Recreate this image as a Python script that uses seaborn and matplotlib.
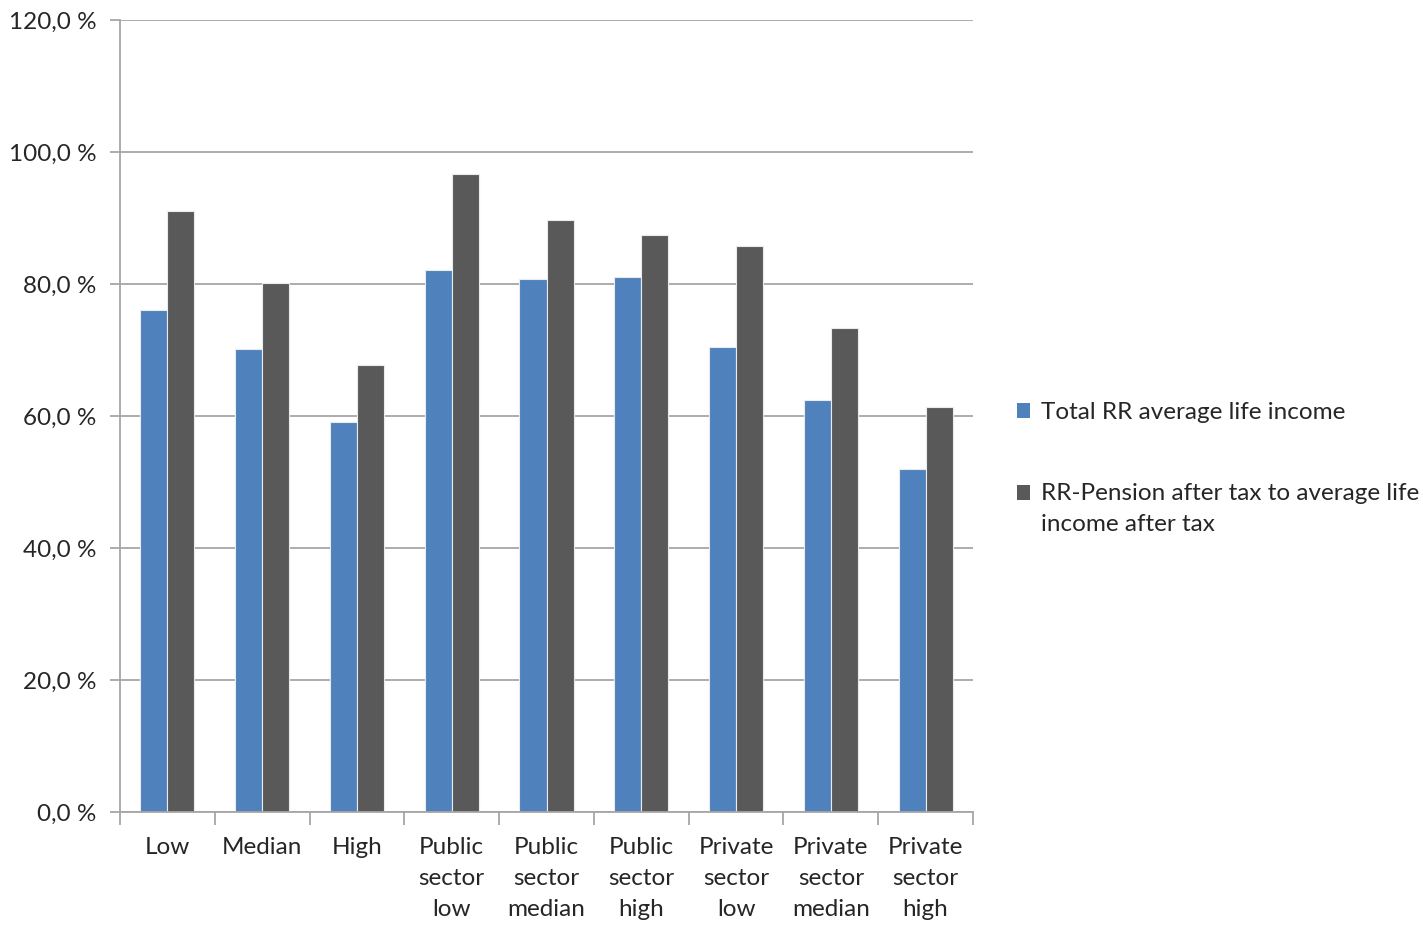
import numpy as np
import pandas as pd
import seaborn as sns
import matplotlib
matplotlib.use("Agg")
import matplotlib.pyplot as plt
from matplotlib.ticker import FuncFormatter, FixedLocator
from matplotlib.patches import Patch, Rectangle
from matplotlib.legend_handler import HandlerPatch

categories = ["Low", "Median", "High",
              "Public\nsector\nlow", "Public\nsector\nmedian", "Public\nsector\nhigh",
              "Private\nsector\nlow", "Private\nsector\nmedian", "Private\nsector\nhigh"]
series_names = ["Total RR average life income",
                "RR-Pension after tax to average life\nincome after tax"]
total_rr = [76.1, 70.1, 59.1, 82.1, 80.8, 81.1, 70.5, 62.5, 52.0]
rr_after_tax = [91.0, 80.1, 67.7, 96.6, 89.7, 87.4, 85.8, 73.4, 61.3]
colors = ["#4F81BD", "#595959"]

df = pd.DataFrame({
    "category": categories * 2,
    "series": [series_names[0]] * len(categories) + [series_names[1]] * len(categories),
    "value": total_rr + rr_after_tax,
})

sns.set_theme(style="white")
plt.rcParams["font.family"] = ["Lato", "DejaVu Sans"]
FS = 17.5
LINE_SPACING = 1.6

fig = plt.figure(figsize=(14.23, 9.25), dpi=100)
ax = fig.add_axes([120 / 1423, 113 / 925, 853 / 1423, 792 / 925])

sns.barplot(data=df, x="category", y="value", hue="series", order=categories,
            hue_order=series_names, palette=colors, width=0.57, gap=0,
            edgecolor="#E8ECF2", linewidth=0.8, saturation=1, legend=False, ax=ax)

ax.set_ylim(0, 120)
ax.set_xlim(-0.5, len(categories) - 0.5)
ax.set_yticks(np.arange(0, 121, 20))
ax.yaxis.set_major_formatter(FuncFormatter(lambda v, p: f"{v:.1f} %".replace(".", ",")))
ax.yaxis.grid(True, color="#A6A6A6", linewidth=1.3)
ax.set_axisbelow(True)
ax.set_xlabel("")
ax.set_ylabel("")

for side in ["top", "right"]:
    ax.spines[side].set_visible(False)
for side in ["left", "bottom"]:
    ax.spines[side].set_color("#A6A6A6")
    ax.spines[side].set_linewidth(1.3)

ax.tick_params(axis="y", which="major", left=True, length=7, width=1.3, color="#A6A6A6",
               labelsize=FS, labelcolor="#262626", pad=10)
ax.tick_params(axis="x", which="major", bottom=False, labelsize=FS, labelcolor="#262626", pad=12)
ax.xaxis.set_minor_locator(FixedLocator(np.arange(-0.5, len(categories), 1.0)))
ax.tick_params(axis="x", which="minor", bottom=True, length=9, width=1.3, color="#A6A6A6")


def top_line_square(legend, orig_handle, xdescent, ydescent, width, height, fontsize):
    # keep the swatch level with the first line of a two-line label
    return Rectangle((-xdescent, -ydescent + 11.5), width, height)


handles = [Patch(facecolor=c, edgecolor="none") for c in colors]
leg = fig.legend(handles, series_names, loc="upper left",
                 bbox_to_anchor=(1017 / 1423, 1 - 402 / 925),
                 frameon=False, fontsize=FS, handlelength=0.55, handleheight=0.55,
                 handletextpad=0.45, labelspacing=2.45, borderpad=0, borderaxespad=0,
                 labelcolor="#262626", alignment="left",
                 handler_map={handles[1]: HandlerPatch(patch_func=top_line_square)})
for t in leg.get_texts():
    t.set_linespacing(LINE_SPACING)

fig.canvas.draw()
for lbl in ax.get_xticklabels():
    lbl.set_linespacing(LINE_SPACING)

fig.savefig("out.png", dpi=100, facecolor="white")
